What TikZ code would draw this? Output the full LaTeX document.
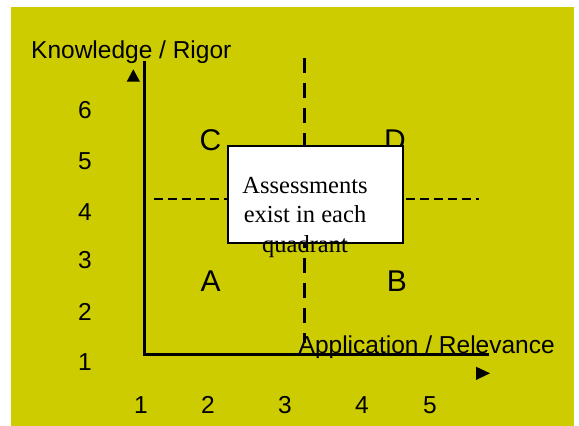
\documentclass[tikz,border=0pt]{standalone}
\usepackage{fontspec}
\setmainfont{Liberation Sans}
\newfontfamily\notefont{Liberation Serif}
\definecolor{field}{HTML}{CCCC00}

\begin{document}
\begin{tikzpicture}[x=1pt, y=-1pt,
  axlbl/.style={inner sep=0, font=\fontsize{24.5}{29}\selectfont},
  quad/.style={inner sep=0, font=\fontsize{30}{34}\selectfont},
  notetxt/.style={inner sep=0, anchor=base, font=\notefont\fontsize{24.5}{29.5}\selectfont}]
\useasboundingbox (0,0) rectangle (579,426);
\fill[field] (11,7) rectangle (574,426);

% quadrant split
\draw[line width=2pt, dash pattern=on 9pt off 5pt] (154,199.3) -- (479,199.3);
\draw[line width=3pt, dash pattern=on 15pt off 10pt] (304,58) -- (304,343);

\node[quad] at (210.5,140.5) (c) {C};
\node[quad] at (395,140.5) (d) {D};
\node[quad] at (210.6,281) (a) {A};
\node[quad] at (397,281) (b) {B};

\node[draw, fill=white, line width=1.3pt, minimum width=175pt, minimum height=97pt] at (315.5,194.5) (note) {};
\node[notetxt] at (305,193) (n1) {Assessments};
\node[notetxt] at (305,222) (n2) {exist in each};
\node[notetxt] at (305,252) (n3) {quadrant};

% axes
\coordinate (top) at (144.3,61);
\coordinate (origin) at (144.3,354.3);
\coordinate (right) at (489,354.3);
\draw[line width=3.3pt] (top) -- (origin) -- (right);
\fill (126.7,81.7) -- (140,81.7) -- (133.3,69.3) -- cycle;
\fill (476,366.7) -- (476,380) -- (490,373.3) -- cycle;

\node[axlbl, anchor=base west] at (31,58.3) (ylab) {Knowledge / Rigor};
\node[axlbl, anchor=base west] at (298.5,353.3) (xlab) {Application / Relevance};

\foreach \v/\y in {6/110,5/161.5,4/211.7,3/260,2/311.7,1/361.7}
  \node[axlbl] at (85,\y) (y\v) {\v};
\foreach \v/\x in {1/141,2/208,3/285,4/362,5/430}
  \node[axlbl] at (\x,405) (x\v) {\v};
\end{tikzpicture}
\end{document}
